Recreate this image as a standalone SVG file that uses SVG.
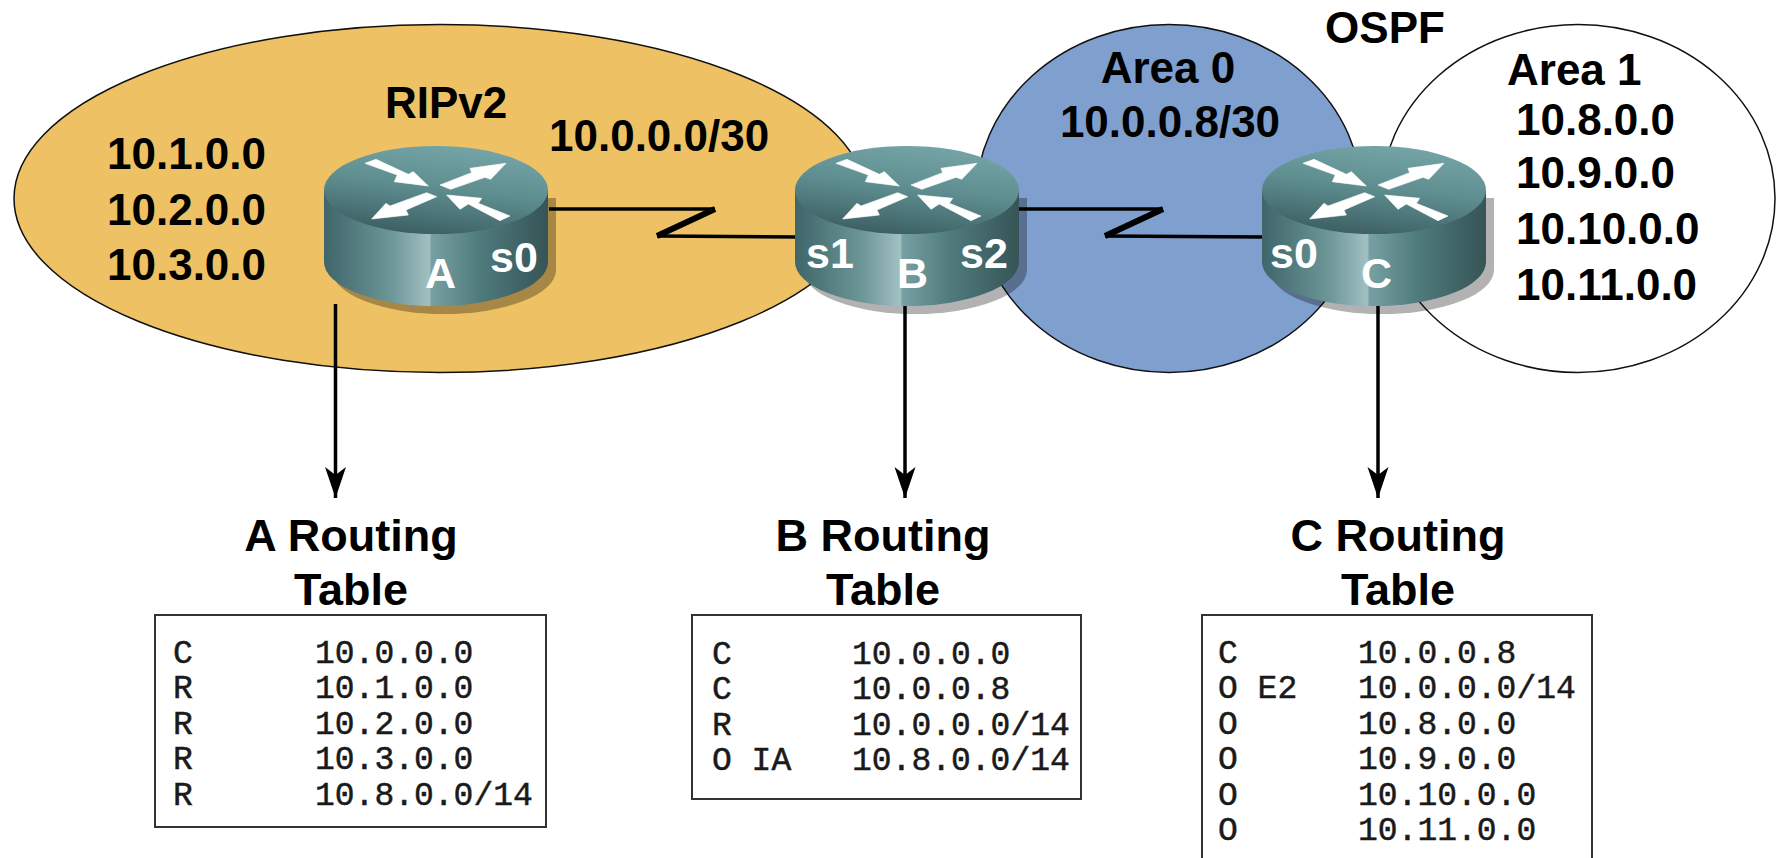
<svg xmlns="http://www.w3.org/2000/svg" width="1781" height="858" viewBox="0 0 1781 858">
<style>
.l{font-family:"Liberation Sans",Arial,sans-serif;font-weight:bold;font-size:44px;fill:#000}
.h{font-size:45px}
.m{font-family:"Liberation Sans",Arial,sans-serif;font-weight:bold;font-size:43px;fill:#fff}
.t{font-family:"Liberation Mono","Courier New",monospace;font-size:33px;fill:#1a1a1a;stroke:#1a1a1a;stroke-width:.5}
.c{text-anchor:middle}
.box{fill:#fff;stroke:#333;stroke-width:2}
.link{fill:none;stroke:#000;stroke-width:3.5}
.zig{fill:none;stroke:#000;stroke-width:6}
.drop{fill:none;stroke:#000;stroke-width:3.5}
.area{stroke:#111;stroke-width:1.5}
</style>
<defs>
<linearGradient id="side" x1="0" x2="1" y1="0" y2="0">
<stop offset="0" stop-color="#3f666a"/><stop offset=".3" stop-color="#6c9698"/><stop offset=".47" stop-color="#a2c0c2"/><stop offset=".48" stop-color="#76a0a2"/><stop offset=".7" stop-color="#4f7a7c"/><stop offset="1" stop-color="#365456"/>
</linearGradient>
<linearGradient id="top" x1=".75" x2=".45" y1="0" y2="1">
<stop offset="0" stop-color="#76a6a8"/><stop offset=".5" stop-color="#5f8e90"/><stop offset="1" stop-color="#3d6165"/>
</linearGradient>
<marker id="ah" markerUnits="userSpaceOnUse" markerWidth="32" markerHeight="22" refX="31" refY="10.5" orient="auto"><path d="M0,0L31,10.5L0,21L8,10.5Z" fill="#000"/></marker>
<g id="router">
<path d="M-104,8V80A112,44 0 0 0 120,80V8Z" fill="#000" opacity=".3"/>
<path d="M-112,0V72A112,44 0 0 0 112,72V0Z" fill="url(#side)"/>
<ellipse cx="0" cy="0" rx="112" ry="44" fill="url(#top)"/>
<g transform="translate(-136,-70) scale(.3333)" fill="#fff" stroke="#fff" stroke-width="2" stroke-linejoin="round">
<path d="M195,130L228,118L325,163L340,155L385,198L283,185L292,165Z"/>
<path d="M420,195L515,158L510,145L618,130L572,178L555,172L452,208Z"/>
<path d="M380,218L410,230L318,270L325,285L215,297L258,250L270,258Z"/>
<path d="M630,288L600,302L505,252L480,268L440,225L545,235L535,250Z"/>
</g>
</g>
</defs>
<rect width="1781" height="858" fill="#fff"/>
<g id="area1"><ellipse class="area" cx="1578" cy="198.5" rx="197" ry="174" fill="#fff"/></g>
<g id="area0"><ellipse class="area" cx="1169" cy="198.5" rx="193" ry="174" fill="#7f9fcf"/></g>
<g id="rip"><ellipse class="area" cx="440" cy="198.5" rx="426" ry="174" fill="#eec264"/></g>
<g id="connectors">
<path class="link" d="M549,209H715M657,236L798,237"/>
<path class="zig" d="M715,209L657,236"/>
<path class="link" d="M1019,209H1163M1105,236L1263,237"/>
<path class="zig" d="M1163,209L1105,236"/>
<path class="drop" d="M335.500,304V498" marker-end="url(#ah)"/>
<path class="drop" d="M905,305V498" marker-end="url(#ah)"/>
<path class="drop" d="M1378,305V498" marker-end="url(#ah)"/>
</g>
<g id="router-a"><use href="#router" x="436" y="190"/><text class="m" x="425" y="288">A</text><text class="m" x="490" y="272">s0</text></g>
<g id="router-b"><use href="#router" x="907" y="190"/><text class="m" x="806" y="268">s1</text><text class="m" x="897" y="288">B</text><text class="m" x="960" y="268">s2</text></g>
<g id="router-c"><use href="#router" x="1374" y="190"/><text class="m" x="1270" y="268">s0</text><text class="m" x="1361" y="288">C</text></g>
<g id="labels">
<text class="l c" x="1385" y="43">OSPF</text>
<text class="l c" x="1168" y="83">Area 0</text>
<text class="l c" x="1170" y="137">10.0.0.8/30</text>
<text class="l" x="1507" y="85">Area 1</text>
<text class="l" x="1516" y="135">10.8.0.0</text>
<text class="l" x="1516" y="188">10.9.0.0</text>
<text class="l" x="1516" y="244">10.10.0.0</text>
<text class="l" x="1516" y="300">10.11.0.0</text>
<text class="l" x="385" y="118">RIPv2</text>
<text class="l" x="549" y="151">10.0.0.0/30</text>
<text class="l" x="107" y="169">10.1.0.0</text>
<text class="l" x="107" y="225">10.2.0.0</text>
<text class="l" x="107" y="280">10.3.0.0</text>
</g>
<g id="table-a">
<text class="l h c" x="351" y="551">A Routing</text><text class="l h c" x="351" y="605">Table</text>
<rect class="box" x="155" y="615" width="391" height="212"/>
<text class="t" x="173" y="663">C</text><text class="t" x="315" y="663">10.0.0.0</text>
<text class="t" x="173" y="698">R</text><text class="t" x="315" y="698">10.1.0.0</text>
<text class="t" x="173" y="734">R</text><text class="t" x="315" y="734">10.2.0.0</text>
<text class="t" x="173" y="769">R</text><text class="t" x="315" y="769">10.3.0.0</text>
<text class="t" x="173" y="805">R</text><text class="t" x="315" y="805">10.8.0.0/14</text>
</g>
<g id="table-b">
<text class="l h c" x="883" y="551">B Routing</text><text class="l h c" x="883" y="605">Table</text>
<rect class="box" x="692" y="615" width="389" height="184"/>
<text class="t" x="712" y="664">C</text><text class="t" x="852" y="664">10.0.0.0</text>
<text class="t" x="712" y="699">C</text><text class="t" x="852" y="699">10.0.0.8</text>
<text class="t" x="712" y="735">R</text><text class="t" x="852" y="735">10.0.0.0/14</text>
<text class="t" x="712" y="770">O IA</text><text class="t" x="852" y="770">10.8.0.0/14</text>
</g>
<g id="table-c">
<text class="l h c" x="1398" y="551">C Routing</text><text class="l h c" x="1398" y="605">Table</text>
<path class="box" d="M1202,860V615H1592V860"/>
<text class="t" x="1218" y="663">C</text><text class="t" x="1358" y="663">10.0.0.8</text>
<text class="t" x="1218" y="698">O E2</text><text class="t" x="1358" y="698">10.0.0.0/14</text>
<text class="t" x="1218" y="734">O</text><text class="t" x="1358" y="734">10.8.0.0</text>
<text class="t" x="1218" y="769">O</text><text class="t" x="1358" y="769">10.9.0.0</text>
<text class="t" x="1218" y="805">O</text><text class="t" x="1358" y="805">10.10.0.0</text>
<text class="t" x="1218" y="840">O</text><text class="t" x="1358" y="840">10.11.0.0</text>
</g>
</svg>
